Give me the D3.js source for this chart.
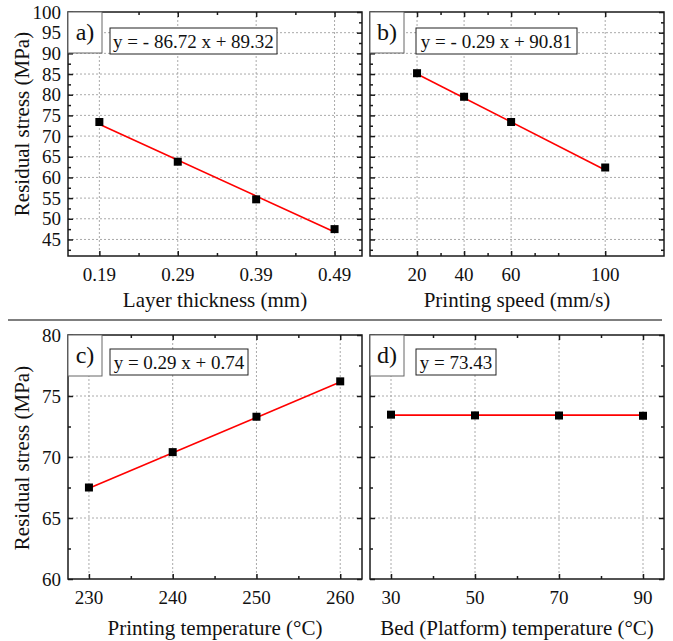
<!DOCTYPE html>
<html>
<head>
<meta charset="utf-8">
<script src="https://cdn.jsdelivr.net/npm/d3@7"></script>
<style>
  @font-face { font-family: "ChartSerif"; src: local("Liberation Serif"), local("LiberationSerif"), local("Times New Roman"); }
  body { margin: 0; background: #fff; }
</style>
</head>
<body>
<svg id="chart" width="673" height="641"></svg>
<script>
// datos
var thicknessX = [0.19, 0.29, 0.39, 0.49];
var thicknessY = [73.4, 63.8, 54.7, 47.5];
var speedX = [20, 40, 60, 100];
var speedY = [85.2, 79.5, 73.4, 62.4];
var printTempX = [230, 240, 250, 260];
var printTempY = [67.5, 70.4, 73.3, 76.2];
var bedTempX = [30, 50, 70, 90];
var bedTempY = [73.47, 73.41, 73.40, 73.38];

// ajustes lineales (pendiente, ordenada)
var fitSlopes = [-86.72, -0.29, 0.29, 0];
var fitIntercepts = [89.32, 90.81, 0.74, 73.43];
var equations = ["y = - 86.72 x + 89.32", "y = - 0.29 x + 90.81", "y = 0.29 x + 0.74", "y = 73.43"];
var panelLabels = ["a)", "b)", "c)", "d)"];

var xTitles = ["Layer thickness (mm)", "Printing speed (mm/s)", "Printing temperature (\u00B0C)", "Bed (Platform) temperature (\u00B0C)"];
var yTitle = "Residual stress (MPa)";

var xTicksA = [0.19, 0.29, 0.39, 0.49], xMinorA = [0.24, 0.34, 0.44];
var xTicksB = [20, 40, 60, 100], xMinorB = [30, 50, 70, 80];
var xTicksC = [230, 240, 250, 260], xMinorC = [235, 245, 255];
var xTicksD = [30, 50, 70, 90], xMinorD = [40, 60, 80];
var yTicksTop = [45, 50, 55, 60, 65, 70, 75, 80, 85, 90, 95, 100];
var yMinorTop = [42.5, 47.5, 52.5, 57.5, 62.5, 67.5, 72.5, 77.5, 82.5, 87.5, 92.5, 97.5];
var yTicksBot = [60, 65, 70, 75, 80];
var yMinorBot = [62.5, 67.5, 72.5, 77.5];

var INK = "#111";

var panels = [
  {x: thicknessX, y: thicknessY, xd: [0.15, 0.525], yd: [41, 100], xt: xTicksA, xm: xMinorA, yt: yTicksTop, ym: yMinorTop,
   fmt: d3.format(".2f"), box: [68, 362, 12, 256], left: true, eq: [42, 16, 167], titleY: 51, ytc: 124},
  {x: speedX, y: speedY, xd: [0, 125], yd: [41, 100], xt: xTicksB, xm: xMinorB, yt: yTicksTop, ym: yMinorTop,
   fmt: d3.format("d"), box: [370, 664, 12, 256], left: false, eq: [46, 16, 161], titleY: 51},
  {x: printTempX, y: printTempY, xd: [227.5, 262.6], yd: [60, 80], xt: xTicksC, xm: xMinorC, yt: yTicksBot, ym: yMinorBot,
   fmt: d3.format("d"), box: [68, 362, 335, 579], left: true, eq: [42, 14, 138], titleY: 56, ytc: 458},
  {x: bedTempX, y: bedTempY, xd: [25, 95], yd: [60, 80], xt: xTicksD, xm: xMinorD, yt: yTicksBot, ym: yMinorBot,
   fmt: d3.format("d"), box: [370, 664, 335, 579], left: false, eq: [46, 14, 80], titleY: 56}
];

var svg = d3.select("#chart");

function label(sel, size) {
    return sel.style("font-family", "'Liberation Serif', ChartSerif, 'Times New Roman'")
        .style("font-size", size + "px").style("fill", INK);
}

// linea separadora
svg.append("line")
    .attr("x1", 8).attr("x2", 662).attr("y1", 320).attr("y2", 320)
    .style("stroke", "#555").style("stroke-width", 1.5);

panels.forEach(function(p, i) {
    var x0 = p.box[0], x1 = p.box[1], y0 = p.box[2], y1 = p.box[3];
    var xs = d3.scaleLinear().domain(p.xd).range([x0, x1]);
    var ys = d3.scaleLinear().domain(p.yd).range([y1, y0]);
    var g = svg.append("g");

    // rejilla
    g.selectAll(".gx").data(p.xt).enter().append("line")
        .attr("x1", function(d) {return xs(d);}).attr("x2", function(d) {return xs(d);})
        .attr("y1", y0).attr("y2", y1)
        .style("stroke", "#aaa").style("stroke-width", 1).style("stroke-dasharray", "2,2");
    g.selectAll(".gy").data(p.yt.filter(function(d) {return d > p.yd[0] && d < p.yd[1];})).enter().append("line")
        .attr("y1", function(d) {return ys(d);}).attr("y2", function(d) {return ys(d);})
        .attr("x1", x0).attr("x2", x1)
        .style("stroke", "#aaa").style("stroke-width", 1).style("stroke-dasharray", "2,2");

    // ejes con ticks hacia dentro en los cuatro lados
    var axes = [
        [d3.axisBottom(xs), "translate(0," + y1 + ")", p.xt, -5],
        [d3.axisBottom(xs), "translate(0," + y1 + ")", p.xm, -3],
        [d3.axisTop(xs), "translate(0," + y0 + ")", p.xt, -5],
        [d3.axisTop(xs), "translate(0," + y0 + ")", p.xm, -3],
        [d3.axisLeft(ys), "translate(" + x0 + ",0)", p.yt, -5],
        [d3.axisLeft(ys), "translate(" + x0 + ",0)", p.ym, -3],
        [d3.axisRight(ys), "translate(" + x1 + ",0)", p.yt, -5],
        [d3.axisRight(ys), "translate(" + x1 + ",0)", p.ym, -3]
    ];
    axes.forEach(function(a) {
        var ax = g.append("g").attr("transform", a[1])
            .call(a[0].tickValues(a[2]).tickSize(a[3]).tickSizeOuter(0).tickFormat(""));
        ax.select(".domain").remove();
        ax.selectAll("text").remove();
        ax.selectAll("line").style("stroke", "#1a1a1a").style("stroke-width", 1.5);
    });

    // marco
    g.append("rect")
        .attr("x", x0).attr("y", y0).attr("width", x1 - x0).attr("height", y1 - y0)
        .style("fill", "none").style("stroke", "#1a1a1a").style("stroke-width", 1.5);

    // etiquetas de ticks
    label(g.selectAll(".xl").data(p.xt).enter().append("text")
        .attr("x", function(d) {return xs(d);}).attr("y", y1 + 25)
        .attr("text-anchor", "middle"), 19)
        .text(p.fmt);
    if (p.left) {
        label(g.selectAll(".yl").data(p.yt).enter().append("text")
            .attr("x", x0 - 7).attr("y", function(d) {return ys(d);})
            .attr("dy", "0.35em").attr("text-anchor", "end"), 19)
            .text(function(d) {return d;});
        label(g.append("text")
            .attr("transform", "translate(29," + p.ytc + ") rotate(-90)")
            .attr("text-anchor", "middle"), 21)
            .text(yTitle);
    }
    label(g.append("text")
        .attr("x", (x0 + x1) / 2).attr("y", y1 + p.titleY)
        .attr("text-anchor", "middle"), 21)
        .text(xTitles[i]);

    // recta de ajuste
    var xe = d3.extent(p.x);
    var fit = xe.map(function(v) {return [v, fitSlopes[i] * v + fitIntercepts[i]];});
    g.append("path")
        .datum(fit)
        .attr("d", d3.line().x(function(d) {return xs(d[0]);}).y(function(d) {return ys(d[1]);}))
        .style("fill", "none").style("stroke", "#ff0000").style("stroke-width", 1.6);

    // puntos
    g.selectAll(".pt").data(p.x).enter().append("rect")
        .attr("x", function(d) {return xs(d) - 4;})
        .attr("y", function(d, j) {return ys(p.y[j]) - 4;})
        .attr("width", 8).attr("height", 8)
        .style("fill", "#000");

    // caja de la letra del panel
    g.append("rect")
        .attr("x", x0).attr("y", y0).attr("width", 34).attr("height", 41)
        .style("fill", "#fff").style("stroke", "#666").style("stroke-width", 1);
    label(g.append("text")
        .attr("x", x0 + 17).attr("y", y0 + 28)
        .attr("text-anchor", "middle"), 24)
        .text(panelLabels[i]);

    // caja de la ecuacion
    g.append("rect")
        .attr("x", x0 + p.eq[0]).attr("y", y0 + p.eq[1])
        .attr("width", p.eq[2]).attr("height", 26)
        .style("fill", "#fff").style("stroke", "#222").style("stroke-width", 1);
    label(g.append("text")
        .attr("x", x0 + p.eq[0] + p.eq[2] / 2).attr("y", y0 + p.eq[1] + 20)
        .attr("text-anchor", "middle"), 19)
        .text(equations[i]);
});
</script>
</body>
</html>
